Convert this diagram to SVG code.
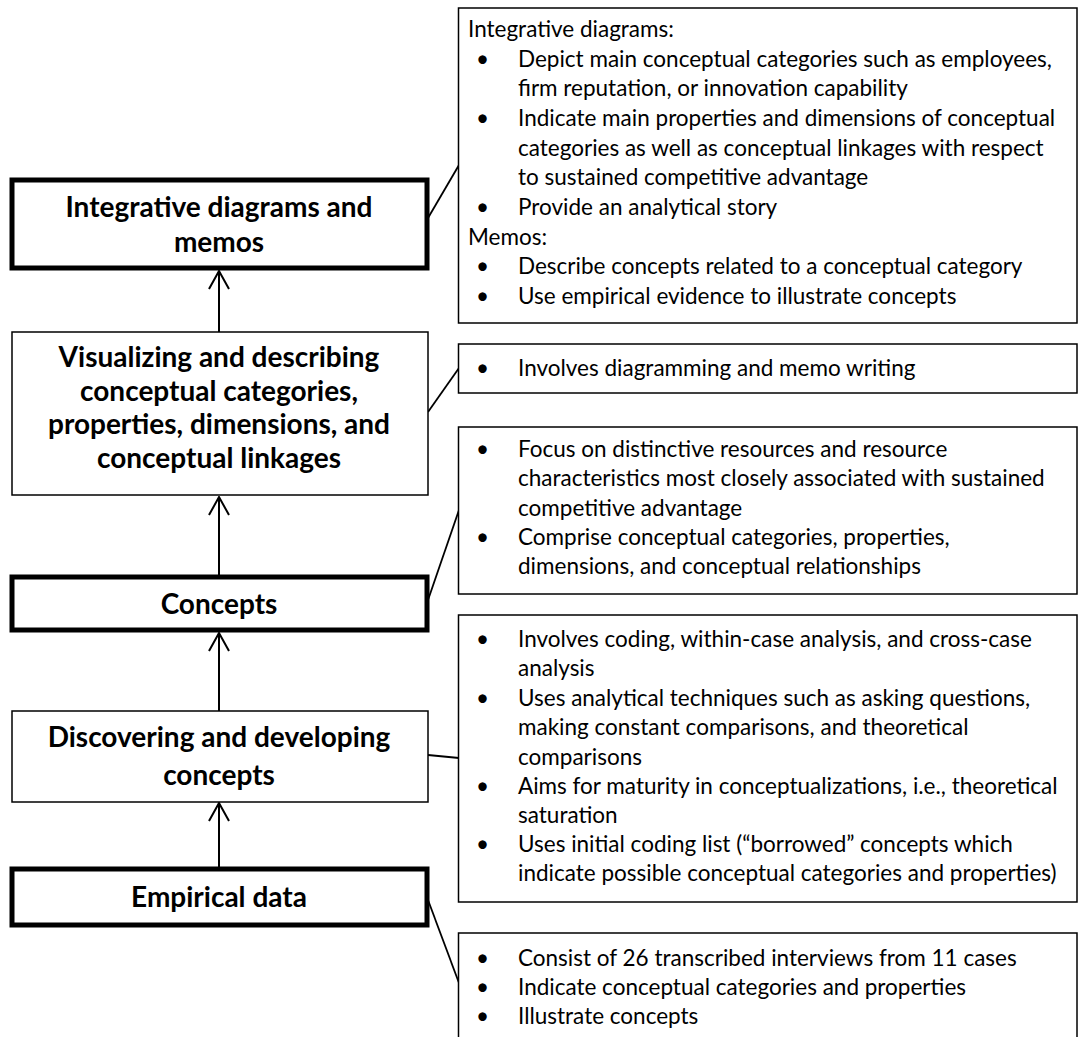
<svg xmlns="http://www.w3.org/2000/svg" width="1087" height="1037" viewBox="0 0 1087 1037">
  <defs>
    <style>
      .stage-thick { fill: #fff; stroke: #000; stroke-width: 5; }
      .stage-thin { fill: #fff; stroke: #000; stroke-width: 1.5; }
      .note { fill: #fff; stroke: #000; stroke-width: 1.5; }
      .title { font-family: Lato, "Liberation Sans", sans-serif; font-weight: bold; font-size: 28px; fill: #000; text-anchor: middle; }
      .body { font-family: Lato, "Liberation Sans", sans-serif; font-size: 22.5px; fill: #000; }
      .link { stroke: #000; stroke-width: 1.8; fill: none; }
      .up { stroke: #000; stroke-width: 2; fill: none; }
    </style>
    <!-- open V arrowhead, drawn along +x so it follows the line direction -->
    <marker id="openHead" viewBox="0 0 20 22" refX="19" refY="11" markerWidth="20" markerHeight="22" markerUnits="userSpaceOnUse" orient="auto">
      <path d="M1,1 L19,11 L1,21" fill="none" stroke="#000" stroke-width="2"/>
    </marker>
  </defs>
  <rect width="1087" height="1037" fill="#fff"/>

  <!-- connectors: upward flow arrows and callout lines -->
  <g id="connectors">
    <line class="up" x1="219" y1="332" x2="219" y2="271" marker-end="url(#openHead)"/>
    <line class="up" x1="219" y1="575" x2="219" y2="497" marker-end="url(#openHead)"/>
    <line class="up" x1="219" y1="711" x2="219" y2="633" marker-end="url(#openHead)"/>
    <line class="up" x1="219" y1="867" x2="219" y2="803" marker-end="url(#openHead)"/>
    <line class="link" x1="428" y1="218" x2="459" y2="165"/>
    <line class="link" x1="428" y1="412" x2="459" y2="368"/>
    <line class="link" x1="428" y1="600" x2="459" y2="510"/>
    <line class="link" x1="428" y1="755" x2="459" y2="758"/>
    <line class="link" x1="428" y1="900" x2="459" y2="983"/>
  </g>

  <!-- process stages -->
  <g id="stage-integrative">
    <rect class="stage-thick" x="12" y="180" width="415" height="88"/>
    <text class="title" x="219" y="217">Integrative diagrams and</text>
    <text class="title" x="219" y="252">memos</text>
  </g>
  <g id="stage-visualizing">
    <rect class="stage-thin" x="12" y="332" width="416" height="163"/>
    <text class="title" x="219" y="367">Visualizing and describing</text>
    <text class="title" x="219" y="401">conceptual categories,</text>
    <text class="title" x="219" y="434">properties, dimensions, and</text>
    <text class="title" x="219" y="468">conceptual linkages</text>
  </g>
  <g id="stage-concepts">
    <rect class="stage-thick" x="12" y="577" width="415" height="53"/>
    <text class="title" x="219" y="614">Concepts</text>
  </g>
  <g id="stage-discovering">
    <rect class="stage-thin" x="12" y="711" width="416" height="91"/>
    <text class="title" x="219" y="747">Discovering and developing</text>
    <text class="title" x="219" y="785">concepts</text>
  </g>
  <g id="stage-empirical">
    <rect class="stage-thick" x="12" y="869" width="415" height="56"/>
    <text class="title" x="219" y="907">Empirical data</text>
  </g>

  <!-- descriptive notes -->
  <g id="note-integrative">
    <rect class="note" x="458.5" y="8" width="618.5" height="315"/>
    <text class="body" x="468" y="37">Integrative diagrams:</text>
    <text class="body" x="476" y="67">•</text><text class="body" x="518" y="67">Depict main conceptual categories such as employees,</text>
    <text class="body" x="518" y="96">firm reputation, or innovation capability</text>
    <text class="body" x="476" y="126">•</text><text class="body" x="518" y="126">Indicate main properties and dimensions of conceptual</text>
    <text class="body" x="518" y="156">categories as well as conceptual linkages with respect</text>
    <text class="body" x="518" y="185">to sustained competitive advantage</text>
    <text class="body" x="476" y="215">•</text><text class="body" x="518" y="215">Provide an analytical story</text>
    <text class="body" x="468" y="245">Memos:</text>
    <text class="body" x="476" y="274">•</text><text class="body" x="518" y="274">Describe concepts related to a conceptual category</text>
    <text class="body" x="476" y="304">•</text><text class="body" x="518" y="304">Use empirical evidence to illustrate concepts</text>
  </g>
  <g id="note-visualizing">
    <rect class="note" x="458.5" y="344" width="618.5" height="49"/>
    <text class="body" x="476" y="376">•</text><text class="body" x="518" y="376">Involves diagramming and memo writing</text>
  </g>
  <g id="note-concepts">
    <rect class="note" x="458.5" y="427" width="618.5" height="167"/>
    <text class="body" x="476" y="457">•</text><text class="body" x="518" y="457">Focus on distinctive resources and resource</text>
    <text class="body" x="518" y="486">characteristics most closely associated with sustained</text>
    <text class="body" x="518" y="516">competitive advantage</text>
    <text class="body" x="476" y="545">•</text><text class="body" x="518" y="545">Comprise conceptual categories, properties,</text>
    <text class="body" x="518" y="574">dimensions, and conceptual relationships</text>
  </g>
  <g id="note-discovering">
    <rect class="note" x="458.5" y="615" width="618.5" height="287"/>
    <text class="body" x="476" y="647">•</text><text class="body" x="518" y="647">Involves coding, within-case analysis, and cross-case</text>
    <text class="body" x="518" y="676">analysis</text>
    <text class="body" x="476" y="706">•</text><text class="body" x="518" y="706">Uses analytical techniques such as asking questions,</text>
    <text class="body" x="518" y="735">making constant comparisons, and theoretical</text>
    <text class="body" x="518" y="765">comparisons</text>
    <text class="body" x="476" y="794">•</text><text class="body" x="518" y="794">Aims for maturity in conceptualizations, i.e., theoretical</text>
    <text class="body" x="518" y="823">saturation</text>
    <text class="body" x="476" y="852">•</text><text class="body" x="518" y="852">Uses initial coding list (“borrowed” concepts which</text>
    <text class="body" x="518" y="881">indicate possible conceptual categories and properties)</text>
  </g>
  <g id="note-empirical">
    <rect class="note" x="458.5" y="933" width="618.5" height="120"/>
    <text class="body" x="476" y="966">•</text><text class="body" x="518" y="966">Consist of 26 transcribed interviews from 11 cases</text>
    <text class="body" x="476" y="995">•</text><text class="body" x="518" y="995">Indicate conceptual categories and properties</text>
    <text class="body" x="476" y="1024">•</text><text class="body" x="518" y="1024">Illustrate concepts</text>
  </g>
</svg>
